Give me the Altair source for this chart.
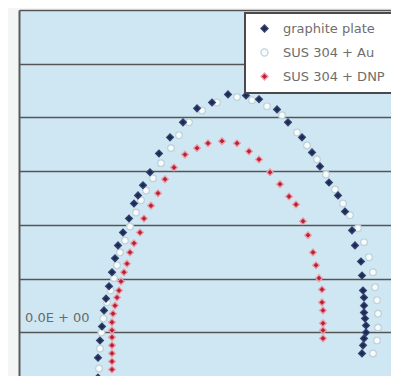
import altair as alt
import pandas as pd

series_names = ["graphite plate", "SUS 304 + Au", "SUS 304 + DNP"]

graphite_x = [0.395, 0.395, 0.405, 0.415, 0.425, 0.435, 0.45, 0.465, 0.48, 0.495,
              0.52, 0.55, 0.575, 0.595, 0.62, 0.655, 0.70, 0.755, 0.82, 0.89,
              0.965, 1.045, 1.135, 1.20, 1.29, 1.345, 1.415, 1.465, 1.505, 1.55,
              1.595, 1.63, 1.665, 1.68, 1.71, 1.715, 1.72, 1.725, 1.725, 1.725,
              1.73, 1.735, 1.735, 1.725, 1.72, 1.715]
graphite_y = [-0.84, -0.47, -0.15, 0.11, 0.41, 0.63, 0.86, 1.12, 1.38, 1.62,
              1.86, 2.12, 2.40, 2.55, 2.74, 2.98, 3.33, 3.63, 3.91, 4.17,
              4.28, 4.43, 4.41, 4.34, 4.15, 3.91, 3.63, 3.35, 3.09, 2.79,
              2.55, 2.25, 1.90, 1.62, 1.32, 1.06, 0.78, 0.65, 0.50, 0.37,
              0.26, 0.13, 0.00, -0.11, -0.24, -0.39]

au_x = [0.40, 0.405, 0.412, 0.422, 0.44, 0.458, 0.475, 0.49, 0.505, 0.53,
        0.555, 0.585, 0.61, 0.635, 0.67, 0.71, 0.76, 0.80, 0.85, 0.915,
        0.99, 1.09, 1.165, 1.24, 1.315, 1.39, 1.44, 1.49, 1.535, 1.58,
        1.62, 1.655, 1.695, 1.725, 1.75, 1.77, 1.78, 1.79, 1.795, 1.795,
        1.79, 1.77]
au_y = [-0.67, -0.30, 0.00, 0.26, 0.56, 0.78, 1.01, 1.25, 1.49, 1.71,
        1.97, 2.23, 2.46, 2.64, 2.87, 3.15, 3.43, 3.67, 3.91, 4.13,
        4.28, 4.38, 4.32, 4.21, 4.04, 3.72, 3.48, 3.22, 2.94, 2.66,
        2.40, 2.18, 1.94, 1.68, 1.40, 1.12, 0.84, 0.60, 0.35, 0.09,
        -0.15, -0.39]

dnp_x = [0.465, 0.465, 0.465, 0.465, 0.465, 0.465, 0.465, 0.47, 0.48, 0.49,
         0.50, 0.51, 0.525, 0.54, 0.555, 0.575, 0.605, 0.625, 0.66, 0.695,
         0.73, 0.775, 0.83, 0.89, 0.945, 1.015, 1.09, 1.15, 1.20, 1.255,
         1.305, 1.35, 1.385, 1.42, 1.445, 1.47, 1.485, 1.50, 1.515, 1.515,
         1.52, 1.52, 1.52, 1.52]
dnp_y = [-0.69, -0.54, -0.39, -0.24, -0.09, 0.04, 0.19, 0.35, 0.50, 0.65,
         0.78, 0.95, 1.12, 1.28, 1.49, 1.66, 1.86, 2.12, 2.36, 2.59,
         2.85, 3.07, 3.31, 3.43, 3.52, 3.56, 3.52, 3.37, 3.22, 2.98,
         2.76, 2.53, 2.38, 2.07, 1.81, 1.49, 1.25, 1.01, 0.80, 0.56,
         0.41, 0.17, 0.04, -0.11]

grid_values = [0, 1, 2, 3, 4, 5, 6]
zero_label = "0.0E + 00"

rows = []
for name, xs, ys in [(series_names[1], au_x, au_y),
                     (series_names[0], graphite_x, graphite_y),
                     (series_names[2], dnp_x, dnp_y)]:
    for xv, yv in zip(xs, ys):
        rows.append({"series": name, "x": xv, "y": yv})
df = pd.DataFrame(rows)

label_df = pd.DataFrame({"x": [0.0], "y": [0.0], "text": [zero_label]})

x_scale = alt.Scale(domain=[0, 1.86], nice=False, zero=False)
y_scale = alt.Scale(domain=[-0.81, 6.0], nice=False, zero=False)

leg = alt.Legend(title=None, orient="none", legendX=226, legendY=3)

points = alt.Chart(df).mark_point(filled=True, opacity=1, strokeWidth=1.3, size=46).encode(
    x=alt.X("x:Q", scale=x_scale, axis=None),
    y=alt.Y("y:Q", scale=y_scale,
            axis=alt.Axis(values=grid_values, grid=True, labels=False, ticks=False,
                          title=None, domain=True, domainColor="#5a5a5a", domainWidth=2,
                          gridColor="#555555", gridWidth=1.7)),
    shape=alt.Shape("series:N",
                    scale=alt.Scale(domain=series_names, range=["diamond", "circle", "diamond"]),
                    legend=leg),
    fill=alt.Fill("series:N",
                  scale=alt.Scale(domain=series_names, range=["#1d2a55", "#f8fbfc", "#b3243a"]),
                  legend=leg),
    stroke=alt.Stroke("series:N",
                      scale=alt.Scale(domain=series_names, range=["#34446e", "#bed3dc", "#ee9ea8"]),
                      legend=leg),
)

label = alt.Chart(label_df).mark_text(
    align="left", baseline="middle", dx=6, dy=-14,
    font="DejaVu Sans", fontSize=13, color="#6a6a6a"
).encode(
    x=alt.X("x:Q", scale=x_scale, axis=None),
    y=alt.Y("y:Q", scale=y_scale),
    text="text:N",
)

chart = alt.layer(points, label).properties(
    width=372, height=366,
    autosize=alt.AutoSizeParams(type="none"),
    padding={"left": 11, "top": 2, "right": 0, "bottom": 0},
    background="#f4f6f6",
).configure_view(
    fill="#cfe7f3", stroke=None
).configure_legend(
    fillColor="#ffffff", strokeColor="#4a4a4a", strokeWidth=2,
    padding=9, symbolOffset=4, labelOffset=12,
    labelFontSize=13, labelFont="DejaVu Sans", labelColor="#6e6e6e",
    rowPadding=10, symbolSize=50, symbolStrokeWidth=1.3, labelLimit=300,
    cornerRadius=0,
)

chart.save("out.html", embed_options={"renderer": "svg", "actions": False})
